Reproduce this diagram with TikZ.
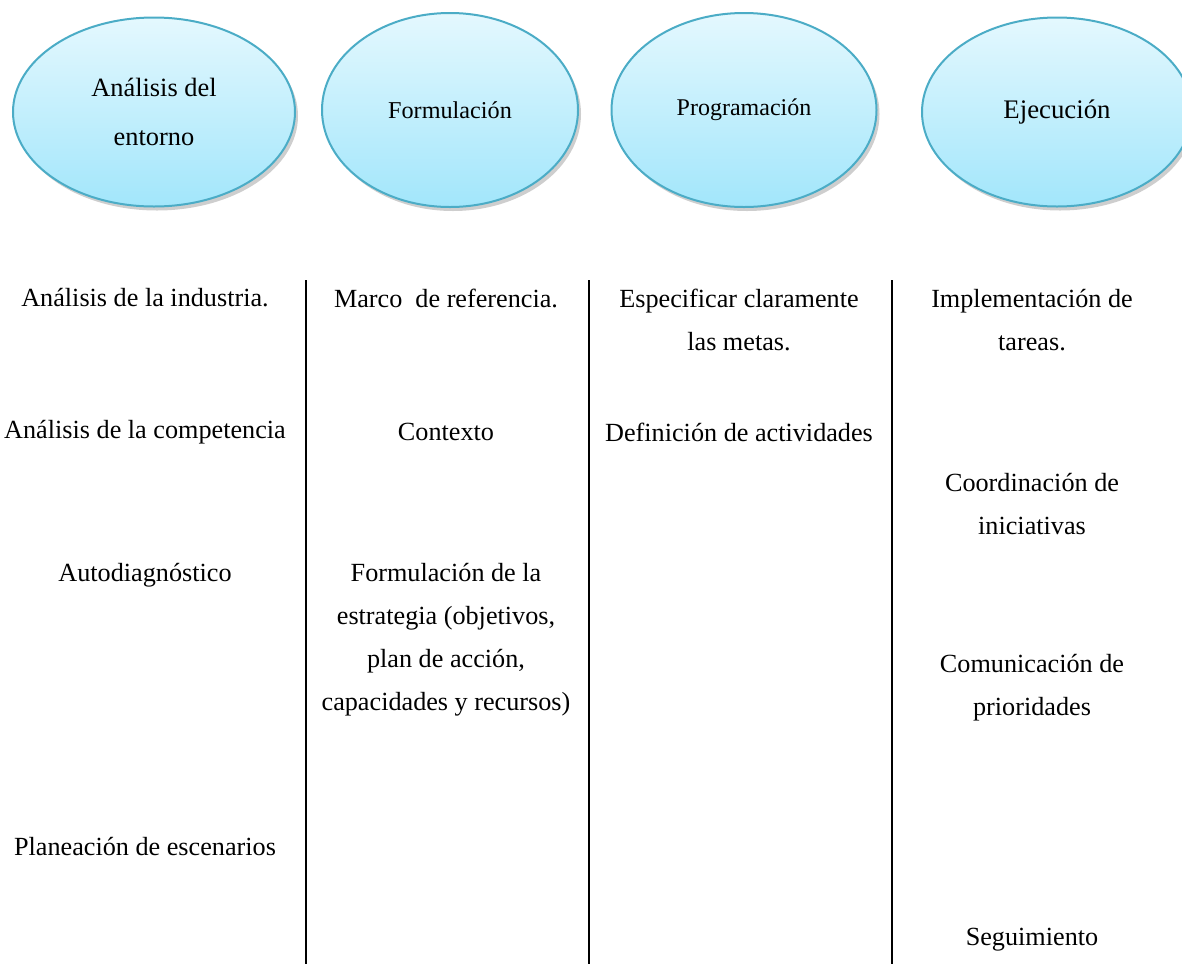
\documentclass[tikz,border=0pt]{standalone}
\usepackage{fontspec}
\setmainfont{Liberation Serif}
\usepackage{tikz}
\usetikzlibrary{positioning,shapes,shadows}
\usepackage{xcolor}
\definecolor{ringblue}{HTML}{4BACC6}
\definecolor{topcyan}{HTML}{E4F8FE}
\definecolor{botcyan}{HTML}{A2E6FB}

\begin{document}
\begin{tikzpicture}[x=0.5pt, y=-0.5pt,
                    phase/.style={ellipse, draw=ringblue, line width=1pt,
                                  top color=topcyan, bottom color=botcyan,
                                  drop shadow={shadow xshift=1.5pt, shadow yshift=-2pt,
                                               opacity=0.35, fill=black!55}},
                    task/.style={align=center, font=\fontsize{13.1}{21.5}\selectfont},
                    divider/.style={line width=1pt}]
                \useasboundingbox (0,0) rectangle (1182,964);
                % phases
                \node[phase, minimum width=141pt, minimum height=94.5pt, align=center,
                      font=\fontsize{13.2}{24.5}\selectfont] (entorno) at (154,112) {Análisis del\\entorno};
                \node[phase, minimum width=128pt, minimum height=97pt,
                      font=\fontsize{12.1}{14}\selectfont] (formul) at (450,110) {Formulación};
                \node[phase, minimum width=132.5pt, minimum height=97pt,
                      font=\fontsize{12}{14}\selectfont] (progr) at (744,110) {Programación};
                \node[phase, minimum width=135pt, minimum height=94.5pt,
                      font=\fontsize{13.4}{16}\selectfont] (ejec) at (1057,112) {Ejecución};
                % dividers
                \foreach \name/\xpos in {sepa/306, sepb/589, sepc/892} {
                    \coordinate (\name top) at (\xpos,280);
                    \coordinate (\name bot) at (\xpos,964);
                    \draw[divider] (\name top) -- (\name bot);
                }
                % column 1
                \node[task] (industria) at (145,298) {Análisis de la industria.};
                \node[task] (competencia) at (145,432) {Análisis de la competencia};
                \node[task] (autodiag) at (145,575) {Autodiagnóstico};
                \node[task] (escenarios) at (145,847) {Planeación de escenarios};
                % column 2
                \node[task] (marco) at (446,298) {Marco~ de referencia.};
                \node[task] (contexto) at (446,432) {Contexto};
                \node[task] (estrategia) at (446,640) {Formulación de la\\estrategia (objetivos,\\plan de acción,\\capacidades y recursos)};
                % column 3
                \node[task] (metas) at (739,320) {Especificar claramente\\las metas.};
                \node[task] (actividades) at (739,432) {Definición de actividades};
                % column 4
                \node[task] (tareas) at (1032,320) {Implementación de\\tareas.};
                \node[task] (iniciativas) at (1032,504) {Coordinación de\\iniciativas};
                \node[task] (prioridades) at (1032,688) {Comunicación de\\prioridades};
                \node[task] (seguim) at (1032,940) {Seguimiento};
\end{tikzpicture}
\end{document}
